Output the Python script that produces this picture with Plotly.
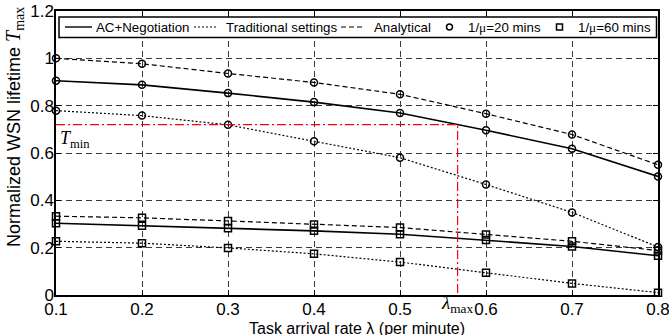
import plotly.graph_objects as go

x_rate = [0.1, 0.2, 0.3, 0.4, 0.5, 0.6, 0.7, 0.8]

# 1/mu = 20 mins (circles)
ac_20 = [0.905, 0.888, 0.853, 0.815, 0.769, 0.696, 0.618, 0.501]
trad_20 = [0.779, 0.758, 0.719, 0.650, 0.580, 0.467, 0.349, 0.203]
anal_20 = [1.000, 0.977, 0.936, 0.898, 0.848, 0.766, 0.678, 0.550]

# 1/mu = 60 mins (squares)
ac_60 = [0.303, 0.293, 0.282, 0.271, 0.257, 0.232, 0.205, 0.166]
trad_60 = [0.227, 0.219, 0.199, 0.174, 0.139, 0.094, 0.049, 0.010]
anal_60 = [0.333, 0.326, 0.313, 0.298, 0.285, 0.256, 0.227, 0.188]

t_min = 0.72
lambda_max = 0.567

x_ticks = [0.1, 0.2, 0.3, 0.4, 0.5, 0.6, 0.7, 0.8]
x_ticklabels = ["0.1", "0.2", "0.3", "0.4", "0.5", "0.6", "0.7", "0.8"]
y_ticks = [0, 0.2, 0.4, 0.6, 0.8, 1.0, 1.2]
y_ticklabels = ["0", "0.2", "0.4", "0.6", "0.8", "1", "1.2"]

legend_names = ["AC+Negotiation", "Traditional settings", "Analytical",
                "1/<span style=\"font-family:Liberation Serif\">\u03bc</span>=20 mins",
                "1/<span style=\"font-family:Liberation Serif\">\u03bc</span>=60 mins"]

x_title = "Task arrival rate \u03bb (per minute)"
y_title = ("Normalized WSN lifetime <span style=\"font-family:Liberation Serif;font-size:20px\">"
           "<i>T</i><sub>max</sub></span>")

SERIF = "Liberation Serif"
SANS = "Liberation Sans"

DASH_SOLID = "solid"
DASH_DOT = "2px,2px"
DASH_DASH = "5px,3px"

fig = go.Figure()

series = [
    (ac_20, DASH_SOLID, "circle-open"),
    (trad_20, DASH_DOT, "circle-open"),
    (anal_20, DASH_DASH, "circle-open"),
    (ac_60, DASH_SOLID, "square-open"),
    (trad_60, DASH_DOT, "square-open"),
    (anal_60, DASH_DASH, "square-open"),
]
for ys, dash, sym in series:
    fig.add_trace(go.Scatter(
        x=x_rate, y=ys, mode="lines+markers",
        line=dict(color="black", width=1.6 if dash == DASH_SOLID else 1.2, dash=dash),
        marker=dict(symbol=sym, size=7, color="black", line=dict(width=1.5, color="black")),
        showlegend=False, hoverinfo="skip", cliponaxis=False,
    ))

# red T_min / lambda_max guides
fig.add_trace(go.Scatter(
    x=[x_rate[0], lambda_max, lambda_max], y=[t_min, t_min, 0],
    mode="lines", line=dict(color="red", width=1.2, dash="9px,3px,2px,3px"),
    showlegend=False, hoverinfo="skip",
))

fig.add_annotation(
    x=0.1, y=0.715, xref="x", yref="y", xanchor="left", yanchor="top",
    text="<i>T</i><sub>min</sub>", showarrow=False,
    font=dict(family=SERIF, size=18, color="black"), xshift=2,
)
fig.add_annotation(
    x=lambda_max, y=0, xref="x", yref="y", xanchor="center", yanchor="top",
    text="<i>\u03bb</i><sub>max</sub>", showarrow=False,
    font=dict(family=SERIF, size=19, color="black"), yshift=5, xshift=-1,
)

# ---- layout helpers (pixel -> paper) ----
def px2x(px):
    return (px - 56) / 602.0

def py2y(py):
    return (295 - py) / 284.0

# axis titles
fig.add_annotation(x=0.5, y=py2y(328), xref="paper", yref="paper",
                   xanchor="center", yanchor="middle", text=x_title, showarrow=False,
                   font=dict(family=SANS, size=16, color="black"))
fig.add_annotation(x=px2x(14), y=py2y(127), xref="paper", yref="paper",
                   xanchor="center", yanchor="middle", text=y_title, showarrow=False,
                   textangle=-90, font=dict(family=SANS, size=18, color="black"))

# ---- manual legend ----
leg_y = py2y(27)
fig.add_shape(type="rect", xref="paper", yref="paper",
              x0=px2x(59), x1=px2x(656.5), y0=py2y(37.5), y1=py2y(17),
              fillcolor="white", line=dict(color="black", width=1.5), layer="above")
for (a, b), dash in zip([(65, 92), (194, 218), (341, 363)], [DASH_SOLID, DASH_DOT, DASH_DASH]):
    fig.add_shape(type="line", xref="paper", yref="paper",
                  x0=px2x(a), x1=px2x(b), y0=leg_y, y1=leg_y,
                  line=dict(color="black", width=1.4 if dash == DASH_SOLID else 1.2, dash=dash),
                  layer="above")
fig.add_shape(type="circle", xref="paper", yref="paper", xsizemode="pixel", ysizemode="pixel",
              xanchor=px2x(449.5), yanchor=leg_y, x0=-3, x1=3, y0=-3, y1=3,
              line=dict(color="black", width=1.5), layer="above")
fig.add_shape(type="rect", xref="paper", yref="paper", xsizemode="pixel", ysizemode="pixel",
              xanchor=px2x(559.5), yanchor=leg_y, x0=-3, x1=3, y0=-3, y1=3,
              line=dict(color="black", width=1.5), layer="above")
for name, px in zip(legend_names, [95, 225, 373, 467, 577]):
    fig.add_annotation(x=px2x(px), y=leg_y, xref="paper", yref="paper",
                       xanchor="left", yanchor="middle", text=name, showarrow=False,
                       font=dict(family=SANS, size=13.3, color="black"), borderpad=0)

grid = dict(showgrid=True, gridcolor="#3a3a3a", griddash="6px,4px", gridwidth=1,
            showline=True, linecolor="black", linewidth=1.5, mirror="ticks",
            ticks="inside", ticklen=5, tickcolor="black", zeroline=False,
            automargin=False, ticklabeloverflow="allow",
            tickfont=dict(family=SANS, size=17, color="black"))

fig.update_xaxes(range=[0.1, 0.8], tickvals=x_ticks, ticktext=x_ticklabels,
                 ticklabelstandoff=-2, **grid)
fig.update_yaxes(range=[0, 1.2], tickvals=y_ticks, ticktext=y_ticklabels,
                 ticklabelstandoff=-3, **grid)

fig.update_layout(
    width=669, height=335,
    margin=dict(l=56, r=11, t=11, b=40, autoexpand=False),
    plot_bgcolor="white", paper_bgcolor="white",
    showlegend=False,
)

fig.write_html("out.html", config={"displayModeBar": False},
               post_script="document.body.style.margin='0';document.body.style.overflow='hidden';")
